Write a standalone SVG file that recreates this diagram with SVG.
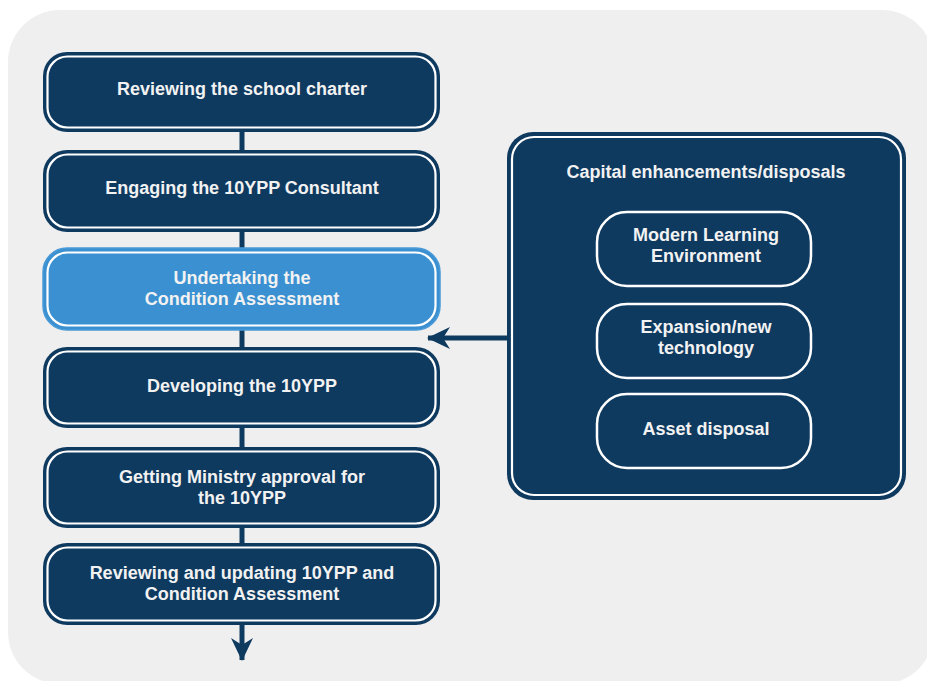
<svg xmlns="http://www.w3.org/2000/svg" width="927" height="681" viewBox="0 0 927 681">
  <defs>
    <style>
      .step { fill: #0f3a60; }
      .step-hi { fill: #3a90d0; stroke: #4a9ad8; stroke-width: 1.5; }
      .ring { fill: none; stroke: #ffffff; stroke-width: 2.2; }
      .sub { fill: #0f3a60; stroke: #ffffff; stroke-width: 2.5; }
      .lbl { font-family: "Liberation Sans", Arial, sans-serif; font-size: 18px; font-weight: bold; fill: #f2f2f2; text-anchor: middle; }
      .link { stroke: #0f3a60; stroke-width: 5; fill: none; }
    </style>
    <marker id="head" viewBox="0 0 24 24" markerWidth="24" markerHeight="24" refX="22" refY="12" orient="auto" markerUnits="userSpaceOnUse">
      <path d="M0,1 L23,12 L0,23 L7,12 Z" fill="#0f3a60"/>
    </marker>
  </defs>

  <!-- page panel -->
  <rect x="8" y="10" width="926" height="674" rx="52" fill="#efefef"/>

  <!-- connectors -->
  <g id="connectors">
    <line class="link" x1="242" y1="130" x2="242" y2="152"/>
    <line class="link" x1="242" y1="230" x2="242" y2="250"/>
    <line class="link" x1="242" y1="328" x2="242" y2="349"/>
    <line class="link" x1="242" y1="426" x2="242" y2="449"/>
    <line class="link" x1="242" y1="526" x2="242" y2="545"/>
    <line class="link" x1="242" y1="623" x2="242" y2="660" marker-end="url(#head)"/>
    <line class="link" x1="509" y1="338" x2="428" y2="338" marker-end="url(#head)"/>
  </g>

  <!-- process steps -->
  <g id="step-charter">
    <rect class="step" x="43" y="52" width="397" height="80" rx="24"/>
    <rect class="ring" x="47.5" y="56.5" width="388" height="71" rx="20"/>
    <text class="lbl" x="242" y="95">Reviewing the school charter</text>
  </g>

  <g id="step-consultant">
    <rect class="step" x="43" y="150" width="397" height="82" rx="24"/>
    <rect class="ring" x="47.5" y="154.5" width="388" height="73" rx="20"/>
    <text class="lbl" x="242" y="194">Engaging the 10YPP Consultant</text>
  </g>

  <g id="step-assessment">
    <rect class="step-hi" x="43" y="248" width="397" height="82" rx="24"/>
    <rect class="ring" x="47.5" y="252.5" width="388" height="73" rx="20"/>
    <text class="lbl" x="242" y="284">Undertaking the</text>
    <text class="lbl" x="242" y="305">Condition Assessment</text>
  </g>

  <g id="step-develop">
    <rect class="step" x="43" y="347" width="397" height="81" rx="24"/>
    <rect class="ring" x="47.5" y="351.5" width="388" height="72" rx="20"/>
    <text class="lbl" x="242" y="392">Developing the 10YPP</text>
  </g>

  <g id="step-approval">
    <rect class="step" x="43" y="447" width="397" height="81" rx="24"/>
    <rect class="ring" x="47.5" y="451.5" width="388" height="72" rx="20"/>
    <text class="lbl" x="242" y="483">Getting Ministry approval for</text>
    <text class="lbl" x="242" y="504">the 10YPP</text>
  </g>

  <g id="step-review">
    <rect class="step" x="43" y="543" width="397" height="82" rx="24"/>
    <rect class="ring" x="47.5" y="547.5" width="388" height="73" rx="20"/>
    <text class="lbl" x="242" y="579">Reviewing and updating 10YPP and</text>
    <text class="lbl" x="242" y="600">Condition Assessment</text>
  </g>

  <!-- capital enhancements panel -->
  <g id="capital">
    <rect class="step" x="507" y="132" width="399" height="368" rx="26"/>
    <rect class="ring" x="512" y="137" width="389" height="358" rx="22"/>
    <text class="lbl" x="706" y="178">Capital enhancements/disposals</text>
  </g>

  <g id="capital-mle">
    <rect class="sub" x="597" y="212" width="214" height="74" rx="30"/>
    <text class="lbl" x="706" y="241">Modern Learning</text>
    <text class="lbl" x="706" y="262">Environment</text>
  </g>

  <g id="capital-expansion">
    <rect class="sub" x="597" y="304" width="214" height="74" rx="30"/>
    <text class="lbl" x="706" y="333">Expansion/new</text>
    <text class="lbl" x="706" y="354">technology</text>
  </g>

  <g id="capital-disposal">
    <rect class="sub" x="597" y="394" width="214" height="74" rx="30"/>
    <text class="lbl" x="706" y="435">Asset disposal</text>
  </g>
</svg>
